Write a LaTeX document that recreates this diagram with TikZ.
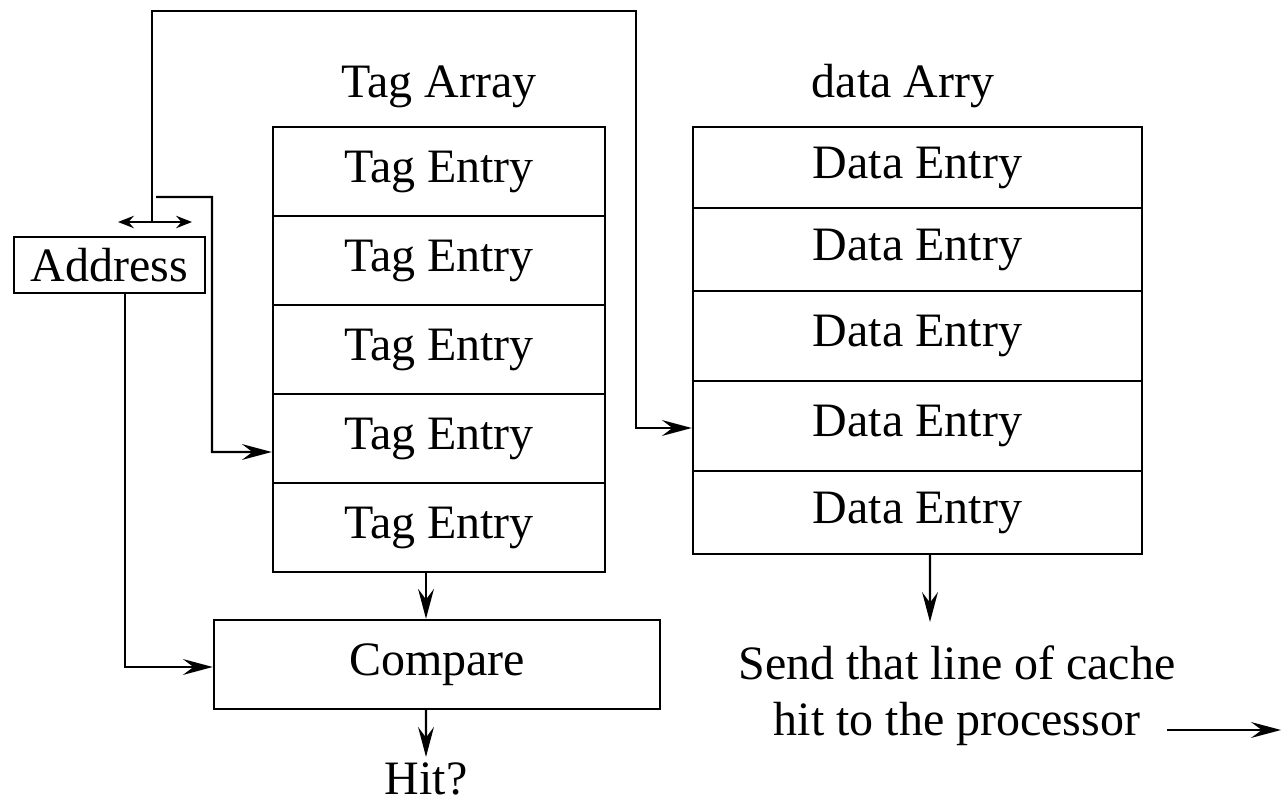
\documentclass[tikz,border=0pt]{standalone}
\usepackage{fontspec}
\setmainfont{Liberation Serif}
\usetikzlibrary{arrows.meta}

\begin{document}
\begin{tikzpicture}[x=0.02cm,y=-0.02cm,
  box/.style={draw,line width=1.4pt,inner sep=0pt,font=\fontsize{27.3}{32}\selectfont},
  tagrow/.style={box,minimum width=6.64cm,minimum height=1.78cm},
  datarow/.style={box,minimum width=8.98cm},
  lbl/.style={inner sep=0pt,font=\fontsize{27.3}{32}\selectfont},
  conn/.style={line width=1.4pt,-{Stealth[length=17pt,width=9pt,inset=6pt]}},
  twoway/.style={line width=1.4pt,{Stealth[length=9pt,width=7pt,inset=3pt]}-{Stealth[length=9pt,width=7pt,inset=3pt]}}]
\useasboundingbox (0,0) rectangle (1283,803);
% tag array
\node[lbl,anchor=base] (tagtitle) at (439,98) {Tag Array};
\node[tagrow] (t1) at (439,171.5) {Tag Entry};
\node[tagrow] (t2) at (439,260.5) {Tag Entry};
\node[tagrow] (t3) at (439,349.5) {Tag Entry};
\node[tagrow] (t4) at (439,438.5) {Tag Entry};
\node[tagrow] (t5) at (439,527.5) {Tag Entry};
% data array
\node[lbl,anchor=base] (datatitle) at (903,98) {data Arry};
\node[datarow,minimum height=1.62cm] (d1) at (917.5,167.5) {Data Entry};
\node[datarow,minimum height=1.66cm] (d2) at (917.5,249.5) {Data Entry};
\node[datarow,minimum height=1.80cm] (d3) at (917.5,336) {Data Entry};
\node[datarow,minimum height=1.80cm] (d4) at (917.5,426) {Data Entry};
\node[datarow,minimum height=1.66cm] (d5) at (917.5,512.5) {Data Entry};
% address and compare
\node[box,minimum width=3.82cm,minimum height=1.12cm] (addr) at (109.5,265) {Address};
\node[box,minimum width=8.92cm,minimum height=1.78cm] (cmp) at (437,664.5) {Compare};
\node[lbl,anchor=base,inner sep=0.1cm] (hit) at (426,794) {Hit?};
\node[lbl,align=center] (sendtxt) at (957,696) {Send that line of cache\\hit to the processor};
% free ends
\coordinate (fl) at (118,222);
\coordinate (fr) at (192,222);
\coordinate (idx) at (152,222);
\coordinate (tagidx) at (156,197);
\coordinate (dout) at (930,622);
\coordinate (pin) at (1167,730);
\coordinate (pout) at (1281,730);
% connectors
\draw[twoway] (fl) -- (fr);
\draw[conn] (idx) |- (636,11) |- ([yshift=-0.04cm]d4.west);
\draw[conn] (tagidx) -| (212,452) -- ([yshift=-0.27cm]t4.west);
\draw[conn] ([xshift=0.31cm]addr.south) |- ([yshift=-0.05cm]cmp.west);
\draw[conn] ([xshift=-0.26cm]t5.south) -- ([xshift=-0.26cm]t5.south |- cmp.north);
\draw[conn] ([xshift=-0.22cm]cmp.south) -- (hit.north);
\draw[conn] ([xshift=0.25cm]d5.south) -- (dout);
\draw[conn] (pin) -- (pout);
\end{tikzpicture}
\end{document}
